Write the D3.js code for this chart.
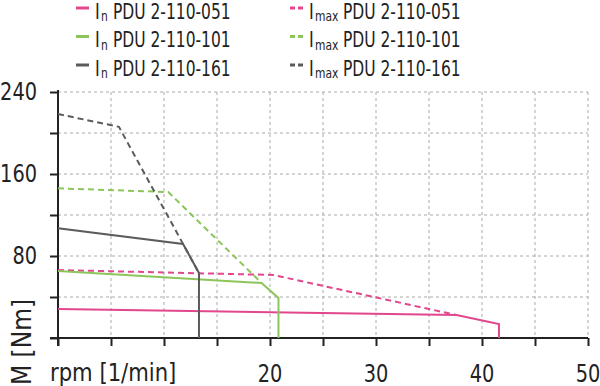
<!DOCTYPE html>
<html lang="en">
<head>
    <meta charset="UTF-8">
    <title>Torque curves</title>
    <script src="https://d3js.org/d3.v7.min.js"></script>
    <style>
        body { margin: 0; background: #fff; }
        text { font-family: "DejaVu Sans Condensed", "DejaVu Sans", sans-serif; font-stretch: condensed; fill: #222; }
    </style>
</head>
<body>
    <svg id="chart"></svg>
    <script>
        // motor models and their curves, [rpm, Nm]
        const models = ["PDU 2-110-051", "PDU 2-110-101", "PDU 2-110-161"];
        const colors = ["#e2468d", "#8cc55a", "#5b5b5b"];
        const inCurves = [
            [[0, 28.3], [37.6, 22.4], [41.6, 13.7], [41.6, 0]],
            [[0, 65.4], [19.2, 53.7], [20.8, 39], [20.8, 0]],
            [[0, 107], [11.8, 91.7], [13.3, 63.4], [13.3, 0]]
        ];
        const imaxCurves = [
            [[0, 66.3], [20.3, 61.5], [37.6, 22.4]],
            [[0, 146], [10.4, 142.4], [19.2, 53.7]],
            [[0, 218.5], [5.75, 206], [13.3, 63.4]]
        ];
        const xTicks = [0, 5, 10, 15, 20, 25, 30, 35, 40, 45, 50];
        const xLabels = [20, 30, 40, 50];
        const yTicks = [0, 40, 80, 120, 160, 200, 240];
        const yLabels = [80, 160, 240];

        const W = 600, H = 386;
        const margin = { top: 92, right: 12, bottom: 48, left: 58 };
        const width = W - margin.left - margin.right;
        const height = H - margin.top - margin.bottom;

        const svg = d3.select("#chart").attr("width", W).attr("height", H);
        const g = svg.append("g").attr("transform", `translate(${margin.left},${margin.top})`);

        const x = d3.scaleLinear().domain([0, 50]).range([0, width]);
        const y = d3.scaleLinear().domain([0, 240]).range([height, 0]);

        // narrow text: the original face is a condensed one
        function label(parent, tx, ty, str, size, sx, anchor) {
            return parent.append("g").attr("transform", `translate(${tx},${ty}) scale(${sx},1)`)
                .append("text").attr("text-anchor", anchor || "start")
                .style("font-size", size + "px").text(str);
        }

        // grid
        g.selectAll(".vgrid").data(xTicks.slice(1)).enter().append("line")
            .attr("x1", d => x(d)).attr("x2", d => x(d))
            .attr("y1", 0).attr("y2", height)
            .attr("stroke", "#aaa").attr("stroke-dasharray", "3,3");
        g.selectAll(".hgrid").data(yTicks.slice(1)).enter().append("line")
            .attr("x1", 0).attr("x2", width)
            .attr("y1", d => y(d)).attr("y2", d => y(d))
            .attr("stroke", "#aaa").attr("stroke-dasharray", "3,3");

        // axes
        const xAxis = g.append("g").attr("transform", `translate(0,${height})`)
            .call(d3.axisBottom(x).tickValues(xTicks).tickSize(8).tickFormat(""));
        const yAxis = g.append("g")
            .call(d3.axisLeft(y).tickValues(yTicks).tickSize(8).tickFormat(""));
        [xAxis, yAxis].forEach(a => {
            a.select(".domain").remove();
            a.selectAll(".tick line").attr("stroke", "#222").attr("stroke-width", 2);
        });
        g.append("line").attr("x1", -8).attr("x2", width).attr("y1", height).attr("y2", height)
            .attr("stroke", "#222").attr("stroke-width", 2);
        g.append("line").attr("x1", 0).attr("x2", 0).attr("y1", -2).attr("y2", height + 8)
            .attr("stroke", "#222").attr("stroke-width", 2);

        xLabels.forEach(d => label(g, x(d), height + 44, d, 25, 0.86, "middle"));
        yLabels.forEach(d => label(g, -21, y(d) + 8, d, 25, 0.86, "end"));

        label(g, -8, height + 43, "rpm [1/min]", 25, 0.94);
        label(g.append("g").attr("transform", `translate(-27,${height + 47}) rotate(-90)`),
            0, 0, "M [Nm]", 26, 1);

        // curves
        const line = d3.line().x(d => x(d[0])).y(d => y(d[1]));
        imaxCurves.forEach((c, i) => {
            g.append("path").datum(c).attr("d", line).attr("fill", "none")
                .attr("stroke", colors[i]).attr("stroke-width", 2)
                .attr("stroke-dasharray", "6,4");
        });
        inCurves.forEach((c, i) => {
            g.append("path").datum(c).attr("d", line).attr("fill", "none")
                .attr("stroke", colors[i]).attr("stroke-width", 2);
        });

        // legend
        const cols = [
            { x: 76, sub: "n", nameX: 113, dash: null },
            { x: 290, sub: "max", nameX: 343, dash: "5,3" }
        ];
        cols.forEach(col => {
            models.forEach((m, i) => {
                const ly = 8 + i * 28.5;
                svg.append("line").attr("x1", col.x).attr("x2", col.x + 13)
                    .attr("y1", ly).attr("y2", ly)
                    .attr("stroke", colors[i]).attr("stroke-width", 3)
                    .attr("stroke-dasharray", col.dash);
                label(svg, col.x + 19, ly + 10.5, "I", 21, 0.85);
                label(svg, col.x + 25, ly + 13, col.sub, 14, 0.85);
                label(svg, col.nameX, ly + 10.5, m, 21, 0.82);
            });
        });
    </script>
</body>
</html>
